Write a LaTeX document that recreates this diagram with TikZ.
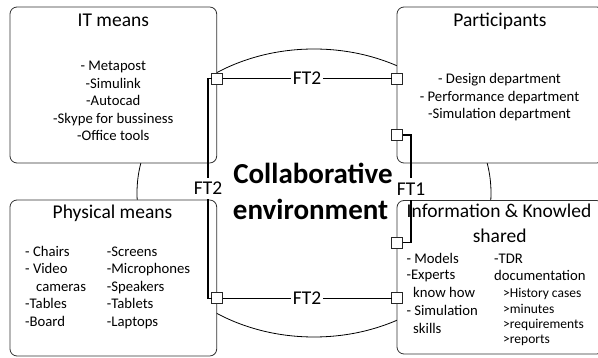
\documentclass[tikz,border=0pt]{standalone}
\usepackage{fontspec}
\setmainfont{Carlito}
\begin{document}
\begin{tikzpicture}[x=1pt,y=-1pt,
  box/.style={draw=black!80, line width=0.8pt, fill=white, rounded corners=7pt, inner sep=0pt, outer sep=0pt},
  port/.style={draw=black!85, line width=0.8pt, fill=white, minimum size=11pt, inner sep=0pt, outer sep=0pt},
  conn/.style={draw=black, line width=1.5pt},
  lab/.style={fill=white, inner xsep=1.5pt, inner ysep=4.5pt, font=\fontsize{19.5}{23}\selectfont},
  ttl/.style={anchor=base, font=\fontsize{19.5}{23}\selectfont, inner sep=0pt},
  txt/.style={anchor=base, font=\fontsize{14.7}{17.7}\selectfont, inner sep=0pt},
  txtl/.style={txt, anchor=base west},
  sml/.style={anchor=base west, font=\fontsize{13.5}{15.5}\selectfont, inner sep=0pt},
  big/.style={anchor=base, font=\fontsize{29}{35}\selectfont\bfseries, inner sep=0pt}
]
\useasboundingbox (0,0) rectangle (598,358);
\clip (0,0) rectangle (598,358);

% background ellipse
\draw[line width=0.8pt] (314,193) ellipse [x radius=177pt, y radius=144pt];

% boxes
\node[box, minimum width=206.7pt, minimum height=156pt] (itbox) at (113.35,85) {};
\node[box, minimum width=206.7pt, minimum height=156pt] (pabox) at (500.35,85) {};
\node[box, minimum width=206.7pt, minimum height=156pt] (phbox) at (113.35,278) {};
\node[box, minimum width=206.7pt, minimum height=153.5pt] (infbox) at (500.35,277.25) {};

% IT means
\node[ttl] (ittitle) at (113.3,26.7) {IT means};
\node[txt] (it1) at (113.3,70.7) {- Metapost};
\node[txt] (it2) at (113.3,88.3) {-Simulink};
\node[txt] (it3) at (113.3,106) {-Autocad};
\node[txt] (it4) at (113.3,123.5) {-Skype for bussiness};
\node[txt] (it5) at (113.3,141) {-Office tools};

% Participants
\node[ttl] (patitle) at (500,26.7) {Participants};
\node[txt] (pa1) at (499.5,84) {- Design department};
\node[txt] (pa2) at (499.5,101.7) {- Performance department};
\node[txt] (pa3) at (499.5,119) {-Simulation department};

% Physical means
\node[ttl] (phtitle) at (112.5,219) {Physical means};
\node[txtl] (ph1) at (25,256.3) {- Chairs};
\node[txtl] (ph2) at (25,274) {- Video};
\node[txtl] (ph3) at (36,291.3) {cameras};
\node[txtl] (ph4) at (25,309) {-Tables};
\node[txtl] (ph5) at (25,327) {-Board};
\node[txtl] (ph6) at (106.7,256.3) {-Screens};
\node[txtl] (ph7) at (106.7,274) {-Microphones};
\node[txtl] (ph8) at (106.7,291.3) {-Speakers};
\node[txtl] (ph9) at (106.7,309) {-Tablets};
\node[txtl] (ph10) at (106.7,327) {-Laptops};

% Information & Knowledge shared
\node[ttl] (inftitle) at (499,218) {Information \& Knowled};
\node[ttl] (inftitleb) at (499.7,242.3) {shared};
\node[txtl] (in1) at (406.3,263.5) {- Models};
\node[txtl] (in2) at (406.3,280) {-Experts};
\node[txtl] (in3) at (413,298) {know how};
\node[txtl] (in4) at (406.3,315.7) {- Simulation};
\node[txtl] (in5) at (413,333.7) {skills};
\node[txtl] (in6) at (494,263.5) {-TDR};
\node[txtl] (in7) at (494,280.3) {documentation};
\node[sml] (in8) at (503,298) {>History cases};
\node[sml] (in9) at (503,313.7) {>minutes};
\node[sml] (in10) at (503,328.5) {>requirements};
\node[sml] (in11) at (503,344) {>reports};

% ports
\node[port] (itp) at (217,78.5) {};
\node[port] (pap1) at (397,78.5) {};
\node[port] (pap2) at (397,135) {};
\node[port] (infp1) at (397,242.5) {};
\node[port] (infp2) at (397,298.3) {};
\node[port] (php) at (217,298.3) {};

% connectors
\draw[conn] (itp) -- node[lab] (ft2a) {FT2} (pap1);
\draw[conn] (php) -- node[lab] (ft2b) {FT2} (infp2);
\draw[conn] (itp.west) -- ++(-3.5,0) |- node[lab,pos=0.25] (ft2c) {FT2} (php.west);
\draw[conn] (pap2.east) -- ++(8.5,0) |- node[lab,pos=0.25] (ft1) {FT1} (infp1.east);

% central text
\node[big] (collab) at (313,183.3) {Collaborative};
\node[big] (envir) at (310.6,220) {environment};
\end{tikzpicture}
\end{document}
